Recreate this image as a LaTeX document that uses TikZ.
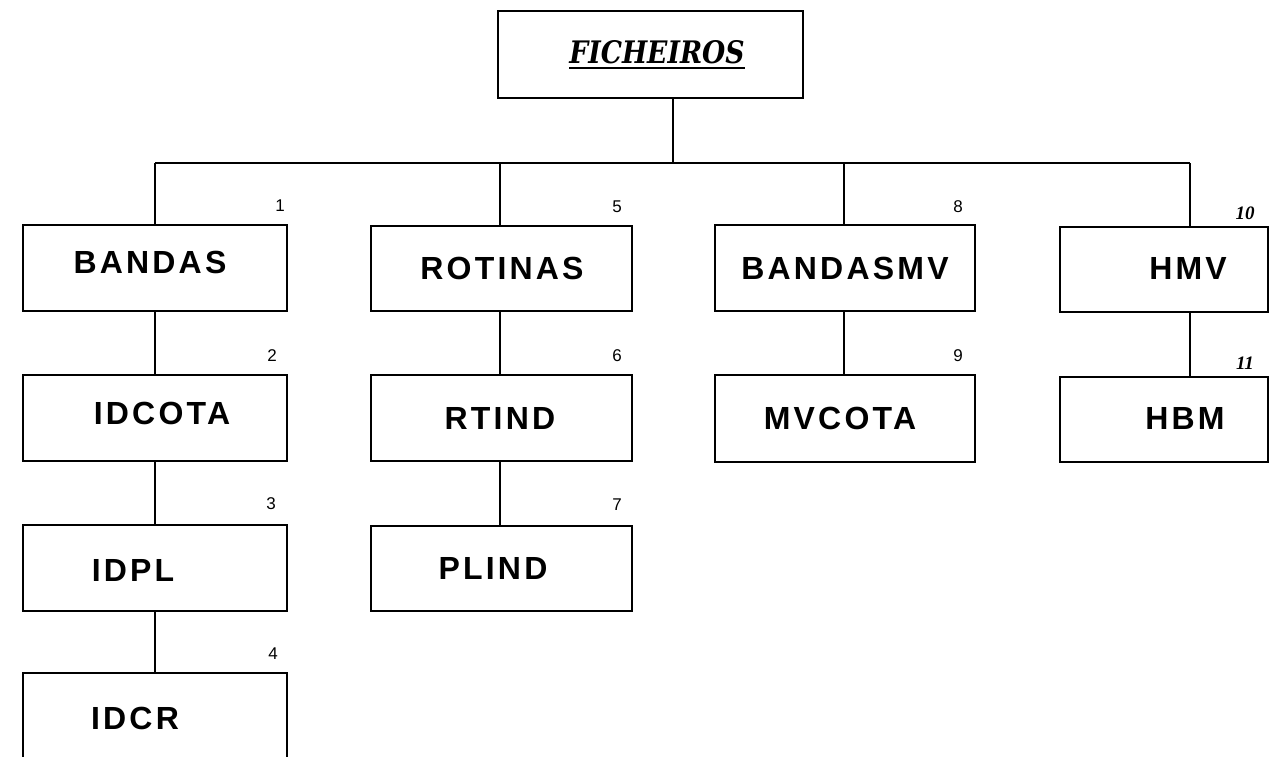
\documentclass[tikz,border=0pt]{standalone}
\usepackage{fontspec}
\setmainfont{Liberation Sans}
\newfontfamily\lblfont[LetterSpace=10]{Liberation Sans}
\newfontfamily\numfont{Liberation Sans}
\newfontfamily\serfont{DejaVu Serif}
\newfontfamily\nsfont{Liberation Serif}
\begin{document}
\begin{tikzpicture}[x=1pt,y=-1pt,
  box/.style={draw, line width=2pt, rectangle, inner sep=0pt},
  lbl/.style={font=\lblfont\bfseries\fontsize{32}{32}\selectfont, inner sep=0pt, anchor=center},
  num/.style={font=\numfont\fontsize{17}{17}\selectfont, inner sep=0pt, anchor=center},
  inum/.style={font=\nsfont\bfseries\itshape\fontsize{19}{19}\selectfont, inner sep=0pt, anchor=center},
  link/.style={line width=1.6pt}]
\useasboundingbox (0,0) rectangle (1274,757);
\clip (0,0) rectangle (1274,757);
% title
\node[box, minimum width=305pt, minimum height=87pt] (title) at (650.5,54.5) {};
\node[inner sep=0pt] (ttext) at (657,52) {\scalebox{0.86}[1]{\serfont\bfseries\itshape\fontsize{31}{31}\selectfont FICHEIROS}};
\draw[line width=2pt] (ttext.south west) ++(0,4) coordinate (ul1) -- (ttext.south east |- ul1);
% bus
\coordinate (b0) at (673,163);
\coordinate (b1) at (155,163);
\coordinate (b2) at (500,163);
\coordinate (b3) at (844,163);
\coordinate (b4) at (1190,163);
\draw[link] (b0 |- title.south) -- (b0);
\draw[link] (b1) -- (b4);
% column 1
\node[box, minimum width=264pt, minimum height=86pt] (bandas) at (155,268) {};
\node[lbl] (tbandas) at (150,262) {BANDAS};
\node[box, minimum width=264pt, minimum height=86pt] (idcota) at (155,417.5) {};
\node[lbl] (tidcota) at (162,413) {IDCOTA};
\node[box, minimum width=264pt, minimum height=86pt] (idpl) at (155,568) {};
\node[lbl] (tidpl) at (133,570) {IDPL};
\node[box, minimum width=264pt, minimum height=140pt] (idcr) at (155,743) {};
\node[lbl] (tidcr) at (135,718) {IDCR};
\node[num] (n1) at (280,206) {1};
\node[num] (n2) at (272,356) {2};
\node[num] (n3) at (271,504) {3};
\node[num] (n4) at (273,654) {4};
\draw[link] (b1) -- (b1 |- bandas.north);
\draw[link] (bandas) -- (idcota);
\draw[link] (idcota) -- (idpl);
\draw[link] (idpl) -- (idcr);
% column 2
\node[box, minimum width=261pt, minimum height=85pt] (rotinas) at (501.5,268.5) {};
\node[lbl] (trotinas) at (502,268) {ROTINAS};
\node[box, minimum width=261pt, minimum height=86pt] (rtind) at (501.5,418) {};
\node[lbl] (trtind) at (500,418) {RTIND};
\node[box, minimum width=261pt, minimum height=85pt] (plind) at (501.5,568.5) {};
\node[lbl] (tplind) at (493,568) {PLIND};
\node[num] (n5) at (617,207) {5};
\node[num] (n6) at (617,356) {6};
\node[num] (n7) at (617,505) {7};
\draw[link] (b2) -- (b2 |- rotinas.north);
\draw[link] (b2 |- rotinas.south) -- (b2 |- rtind.north);
\draw[link] (b2 |- rtind.south) -- (b2 |- plind.north);
% column 3
\node[box, minimum width=260pt, minimum height=86pt] (bandasmv) at (845,268) {};
\node[lbl] (tbandasmv) at (845,268) {BANDASMV};
\node[box, minimum width=260pt, minimum height=87pt] (mvcota) at (845,418.5) {};
\node[lbl] (tmvcota) at (840,418) {MVCOTA};
\node[num] (n8) at (958,207) {8};
\node[num] (n9) at (958,356) {9};
\draw[link] (b3) -- (b3 |- bandasmv.north);
\draw[link] (b3 |- bandasmv.south) -- (b3 |- mvcota.north);
% column 4
\node[box, minimum width=208pt, minimum height=85pt] (hmv) at (1164,269.5) {};
\node[lbl] (thmv) at (1188,268) {HMV};
\node[box, minimum width=208pt, minimum height=85pt] (hbm) at (1164,419.5) {};
\node[lbl] (thbm) at (1185,418) {HBM};
\node[inum] (n10) at (1245,213) {10};
\node[inum] (n11) at (1245,363) {11};
\draw[link] (b4) -- (b4 |- hmv.north);
\draw[link] (b4 |- hmv.south) -- (b4 |- hbm.north);
\end{tikzpicture}
\end{document}
